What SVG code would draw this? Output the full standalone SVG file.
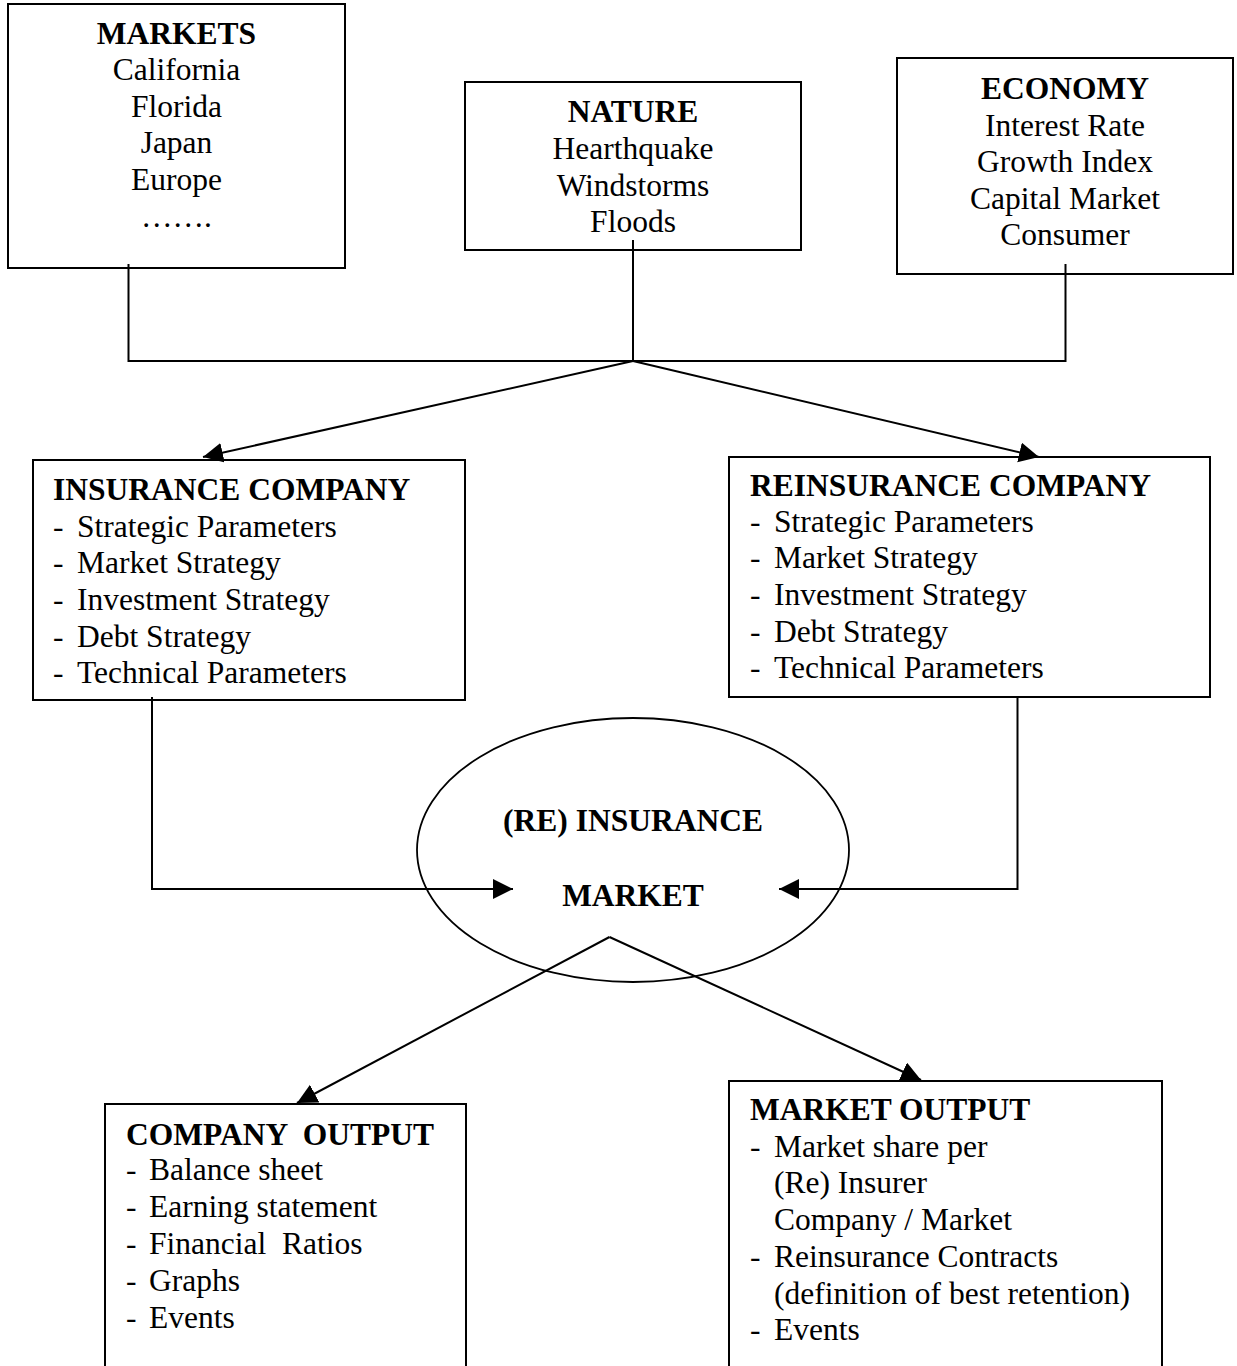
<svg xmlns="http://www.w3.org/2000/svg" width="1237" height="1366" viewBox="0 0 1237 1366">
<style>
.box{fill:#fff;stroke:#000;stroke-width:2}
.ell{fill:#fff;stroke:#000;stroke-width:1.8}
.t{font-family:"Liberation Serif","Times New Roman",serif;font-size:31.5px;fill:#000}
.b{font-weight:bold}
.c{text-anchor:middle}
.ln{fill:none;stroke:#000;stroke-width:2}
.pre{white-space:pre}
</style>
<defs>
<marker id="arr" markerUnits="userSpaceOnUse" markerWidth="22" markerHeight="22" refX="20" refY="10" orient="auto" viewBox="0 0 22 22">
<path d="M0,0 L20,10 L0,20 Z" fill="#000"/>
</marker>
</defs>
<rect width="1237" height="1366" fill="#fff"/>

<g id="markets">
<rect class="box" x="8" y="4" width="337" height="264"/>
<text class="t b c" x="176.5" y="44">MARKETS</text>
<text class="t c" x="176.5" y="80">California</text>
<text class="t c" x="176.5" y="117">Florida</text>
<text class="t c" x="176.5" y="153">Japan</text>
<text class="t c" x="176.5" y="190">Europe</text>
<text class="t c" x="176.5" y="227">…….</text>
</g>

<g id="nature">
<rect class="box" x="465" y="82" width="336" height="168"/>
<text class="t b c" x="633" y="122">NATURE</text>
<text class="t c" x="633" y="159">Hearthquake</text>
<text class="t c" x="633" y="196">Windstorms</text>
<text class="t c" x="633" y="232">Floods</text>
</g>

<g id="economy">
<rect class="box" x="897" y="58" width="336" height="216"/>
<text class="t b c" x="1065" y="98.5">ECONOMY</text>
<text class="t c" x="1065" y="135.5">Interest Rate</text>
<text class="t c" x="1065" y="172">Growth Index</text>
<text class="t c" x="1065" y="208.5">Capital Market</text>
<text class="t c" x="1065" y="245">Consumer</text>
</g>

<g id="insurance-company">
<rect class="box" x="33" y="460" width="432" height="240"/>
<text class="t b" x="53" y="500">INSURANCE COMPANY</text>
<text class="t" y="537"><tspan x="53">-</tspan><tspan x="77">Strategic Parameters</tspan></text>
<text class="t" y="573"><tspan x="53">-</tspan><tspan x="77">Market Strategy</tspan></text>
<text class="t" y="610"><tspan x="53">-</tspan><tspan x="77">Investment Strategy</tspan></text>
<text class="t" y="647"><tspan x="53">-</tspan><tspan x="77">Debt Strategy</tspan></text>
<text class="t" y="683"><tspan x="53">-</tspan><tspan x="77">Technical Parameters</tspan></text>
</g>

<g id="reinsurance-company">
<rect class="box" x="729" y="457" width="481" height="240"/>
<text class="t b" x="750" y="496">REINSURANCE COMPANY</text>
<text class="t" y="532"><tspan x="750">-</tspan><tspan x="774">Strategic Parameters</tspan></text>
<text class="t" y="568"><tspan x="750">-</tspan><tspan x="774">Market Strategy</tspan></text>
<text class="t" y="605"><tspan x="750">-</tspan><tspan x="774">Investment Strategy</tspan></text>
<text class="t" y="642"><tspan x="750">-</tspan><tspan x="774">Debt Strategy</tspan></text>
<text class="t" y="678"><tspan x="750">-</tspan><tspan x="774">Technical Parameters</tspan></text>
</g>

<g id="reinsurance-market">
<ellipse class="ell" cx="633" cy="850" rx="216" ry="132"/>
<text class="t b c" x="633" y="831">(RE) INSURANCE</text>
<text class="t b c" x="633" y="906">MARKET</text>
</g>

<g id="company-output">
<rect class="box" x="105" y="1104" width="361" height="280"/>
<text class="t b pre" x="126" y="1145" xml:space="preserve">COMPANY  OUTPUT</text>
<text class="t" y="1180"><tspan x="126">-</tspan><tspan x="149">Balance sheet</tspan></text>
<text class="t" y="1217"><tspan x="126">-</tspan><tspan x="149">Earning statement</tspan></text>
<text class="t pre" y="1254" xml:space="preserve"><tspan x="126">-</tspan><tspan x="149">Financial  Ratios</tspan></text>
<text class="t" y="1291"><tspan x="126">-</tspan><tspan x="149">Graphs</tspan></text>
<text class="t" y="1328"><tspan x="126">-</tspan><tspan x="149">Events</tspan></text>
</g>

<g id="market-output">
<rect class="box" x="729" y="1081" width="433" height="300"/>
<text class="t b" x="750" y="1120">MARKET OUTPUT</text>
<text class="t" y="1157"><tspan x="750">-</tspan><tspan x="774">Market share per</tspan></text>
<text class="t" x="774" y="1193">(Re) Insurer</text>
<text class="t" x="774" y="1230">Company / Market</text>
<text class="t" y="1267"><tspan x="750">-</tspan><tspan x="774">Reinsurance Contracts</tspan></text>
<text class="t" x="774" y="1304">(definition of best retention)</text>
<text class="t" y="1340"><tspan x="750">-</tspan><tspan x="774">Events</tspan></text>
</g>

<g id="connectors">
<path class="ln" d="M128.5,264 V361 H1065.5 V264"/>
<path class="ln" d="M633,240 V361"/>
<path class="ln" d="M633,361 L203,457" marker-end="url(#arr)"/>
<path class="ln" d="M633,361 L1039,457" marker-end="url(#arr)"/>
<path class="ln" d="M152,697 V889 H513" marker-end="url(#arr)"/>
<path class="ln" d="M1017.5,697 V889 H779" marker-end="url(#arr)"/>
<path class="ln" d="M609.5,937 L297,1103" marker-end="url(#arr)"/>
<path class="ln" d="M609.5,937 L921,1080" marker-end="url(#arr)"/>
</g>
</svg>
